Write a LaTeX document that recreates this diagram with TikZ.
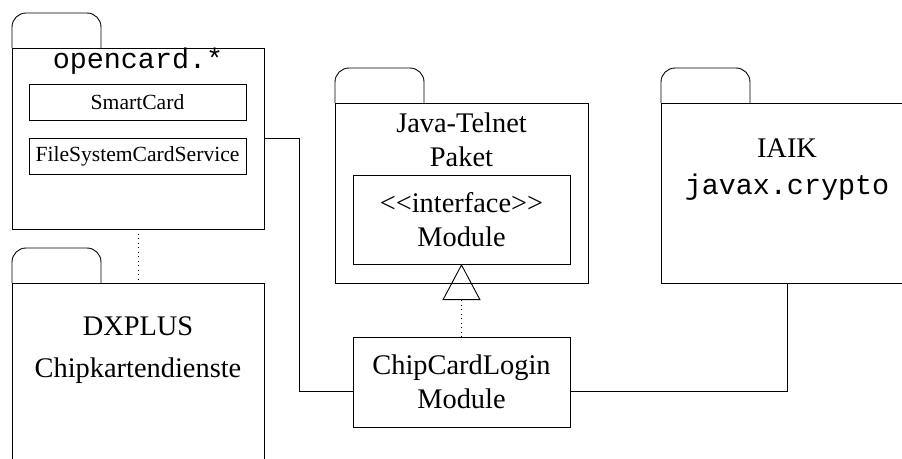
\documentclass[tikz,border=0pt]{standalone}
\usepackage{fontspec}
\setmainfont{Liberation Serif}
\setmonofont{Liberation Mono}
\usetikzlibrary{positioning}
\usetikzlibrary{arrows.meta,calc}
\tikzset{
    % package body
    pkg/.style={
           draw,
           rectangle,
           anchor=north west,
           inner sep=0pt,
           minimum width=252pt,
           minimum height=181pt,},
    % class box
    cls/.style={
           draw,
           rectangle,
           inner sep=0pt,
           minimum width=217pt,},
    % text sizes
    bigtxt/.style={font=\fontsize{28.4}{34}\selectfont, align=center},
    smalltxt/.style={font=\fontsize{21.6}{26}\selectfont},
    % dependency and realization
    dots/.style={dash pattern=on 1pt off 3.5pt},
    real/.style={
           dots,
           -{Triangle[open,length=36pt,width=38pt]},}
}
% folder tab on top of a package
\newcommand{\pkgtab}[1]{\draw[rounded corners=14pt] (#1.north west) -- ++(0,-35) -- ++(89,0) -- ++(0,35);}

\begin{document}
\begin{tikzpicture}[x=1pt, y=-1pt, line width=0.9pt, outer sep=0pt]

\clip (0,0) rectangle (902,458);

%%%%%%%%%%%%%%%%%%%%%%%%%%%%%%%%%

% packages
\node [pkg] (opencard) at (12,48) {};
\node [pkg] (dxplus) at (12,283) {};
\node [pkg, minimum width=253pt, minimum height=180pt] (telnet) at (335,103) {};
\node [pkg, minimum height=180pt] (iaik) at (661,103) {};

% tabs
\pkgtab{opencard}
\pkgtab{dxplus}
\pkgtab{telnet}
\pkgtab{iaik}

% package names
\node [bigtxt] (opencardname) at (138,61) {\ttfamily opencard.*};
\node [bigtxt] (dxname) at (138,350) {DXPLUS\\[8pt]Chipkartendienste};
\node [bigtxt] (telnetname) at (461.5,140) {Java-Telnet\\Paket};
\node [bigtxt] (iaikname) at (787,170) {IAIK\\[3pt]{\ttfamily javax.crypto}};

% classes
\node [cls, smalltxt, minimum height=36pt] (smartcard) at (137.5,102) {SmartCard};
\node [cls, smalltxt, minimum height=36pt] (fscs) at (137.5,156) {FileSystemCardService};
\node [cls, bigtxt, minimum height=89pt] (iface) at (461.5,219.5) {<{}<interface>{}>\\Module};
\node [cls, bigtxt, minimum height=90pt] (login) at (461.5,382) {ChipCardLogin\\Module};

% connectors
\draw [dots] (opencard.south) -- (dxplus.north);
\draw [real] (login.north) -- (iface.south);
\draw (opencard.east) -- ++(35,0) |- ([yshift=-9pt]login.west);
\draw ([yshift=-9pt]login.east) -| (iaik.south);

\end{tikzpicture}
\end{document}
